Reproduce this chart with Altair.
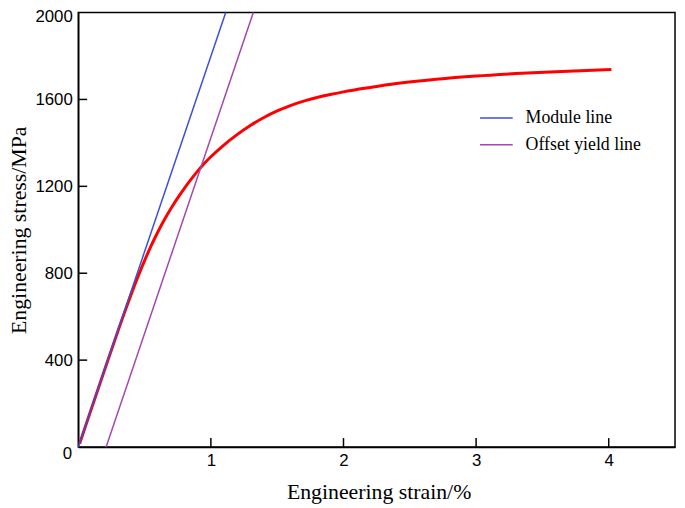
import altair as alt
import pandas as pd

# Red stress-strain curve
curve_strain = [0.01, 0.1, 0.2, 0.3, 0.35, 0.4, 0.45, 0.5, 0.55, 0.6, 0.65, 0.7, 0.75, 0.8,
                0.85, 0.9, 0.95, 1.0, 1.1, 1.2, 1.3, 1.4, 1.5, 1.6, 1.7, 1.8, 1.9,
                2.0, 2.2, 2.4, 2.7, 3.0, 3.3, 3.6, 4.02]
curve_stress = [15, 178, 358, 535, 622, 705, 784, 858, 927, 990, 1047, 1099, 1147, 1191,
                1232, 1270, 1305, 1336, 1391, 1439, 1481, 1517, 1547, 1572, 1592,
                1609, 1623, 1635, 1655, 1673, 1693, 1708, 1719, 1728, 1738]

# Straight reference lines
line_names = ["Module line", "Module line", "Offset yield line", "Offset yield line"]
line_strain = [0.0, 1.112, 0.21, 1.32]
line_stress = [0, 2000, 0, 2000]

x_ticks = [1, 2, 3, 4]
y_ticks = [400, 800, 1200, 1600, 2000]

W, H = 603, 439

df_curve = pd.DataFrame({"strain": curve_strain, "stress": curve_stress})
df_lines = pd.DataFrame({"series": line_names, "strain": line_strain, "stress": line_stress})
df_xt = pd.DataFrame({"v": x_ticks})
df_yt = pd.DataFrame({"v": y_ticks[:-1]})
df_zero = pd.DataFrame({"strain": [0], "stress": [0], "t": ["0"]})

xscale = alt.Scale(domain=[0, 4.5], nice=False, zero=False)
yscale = alt.Scale(domain=[0, 2000], nice=False)

xaxis = alt.Axis(values=x_ticks, format="d", ticks=False, grid=False,
                 labelFont="Liberation Sans", labelFontSize=17, labelColor="black",
                 labelPadding=6, domainColor="black", domainWidth=1.5,
                 title="Engineering strain/%", titleFont="Liberation Serif",
                 titleFontSize=22, titleFontWeight="normal", titleColor="black",
                 titleX=W / 2 + 2, titleY=52.5, titleBaseline="alphabetic",
                 titleAnchor="middle")
yaxis = alt.Axis(values=y_ticks, format="d", ticks=False, grid=False,
                 labelFont="Liberation Sans", labelFontSize=17, labelColor="black",
                 labelPadding=6, labelFlush=True, labelFlushOffset=4,
                 domainColor="black", domainWidth=1.5,
                 title="Engineering stress/MPa", titleFont="Liberation Serif",
                 titleFontSize=22, titleFontWeight="normal", titleColor="black",
                 titleX=-53, titleY=H / 2, titleBaseline="alphabetic", titleAngle=-90,
                 titleAnchor="middle")

X = alt.X("strain:Q", scale=xscale, axis=xaxis)
Y = alt.Y("stress:Q", scale=yscale, axis=yaxis)

lines = alt.Chart(df_lines).mark_line(strokeWidth=1.5).encode(
    x=X, y=Y,
    color=alt.Color("series:N",
                    scale=alt.Scale(domain=["Module line", "Offset yield line"],
                                    range=["#3C4FD6", "#A346B0"]),
                    legend=alt.Legend(orient="none", legendX=405, legendY=89, title=None,
                                      symbolType="stroke", symbolSize=1089,
                                      symbolStrokeWidth=1.5, labelOffset=12,
                                      labelFont="Liberation Serif", labelFontSize=18,
                                      labelColor="black", rowPadding=-6.3, padding=0)),
    detail="series:N",
)

curve = alt.Chart(df_curve).mark_line(color="#FF0000", strokeWidth=3,
                                      interpolate="monotone").encode(
    x=alt.X("strain:Q", scale=xscale), y=alt.Y("stress:Q", scale=yscale))

xt = alt.Chart(df_xt).mark_rule(color="black", strokeWidth=1.5).encode(
    x=alt.X("v:Q", scale=xscale), y=alt.value(H), y2=alt.value(H - 9))
yt = alt.Chart(df_yt).mark_rule(color="black", strokeWidth=1.5).encode(
    y=alt.Y("v:Q", scale=yscale), x=alt.value(0), x2=alt.value(9))

zero = alt.Chart(df_zero).mark_text(font="Liberation Sans", fontSize=17, color="black",
                                    dx=-11, dy=7).encode(
    x=alt.X("strain:Q", scale=xscale), y=alt.Y("stress:Q", scale=yscale), text="t:N")

chart = alt.layer(curve, lines, xt, yt, zero).properties(
    width=W, height=H,
    autosize=alt.AutoSizeParams(type="none"),
    padding={"left": 71, "top": 2, "right": 2, "bottom": 57},
).configure_view(stroke="black", strokeWidth=1.5)

chart.save("out.html", embed_options={"renderer": "svg", "actions": False})
